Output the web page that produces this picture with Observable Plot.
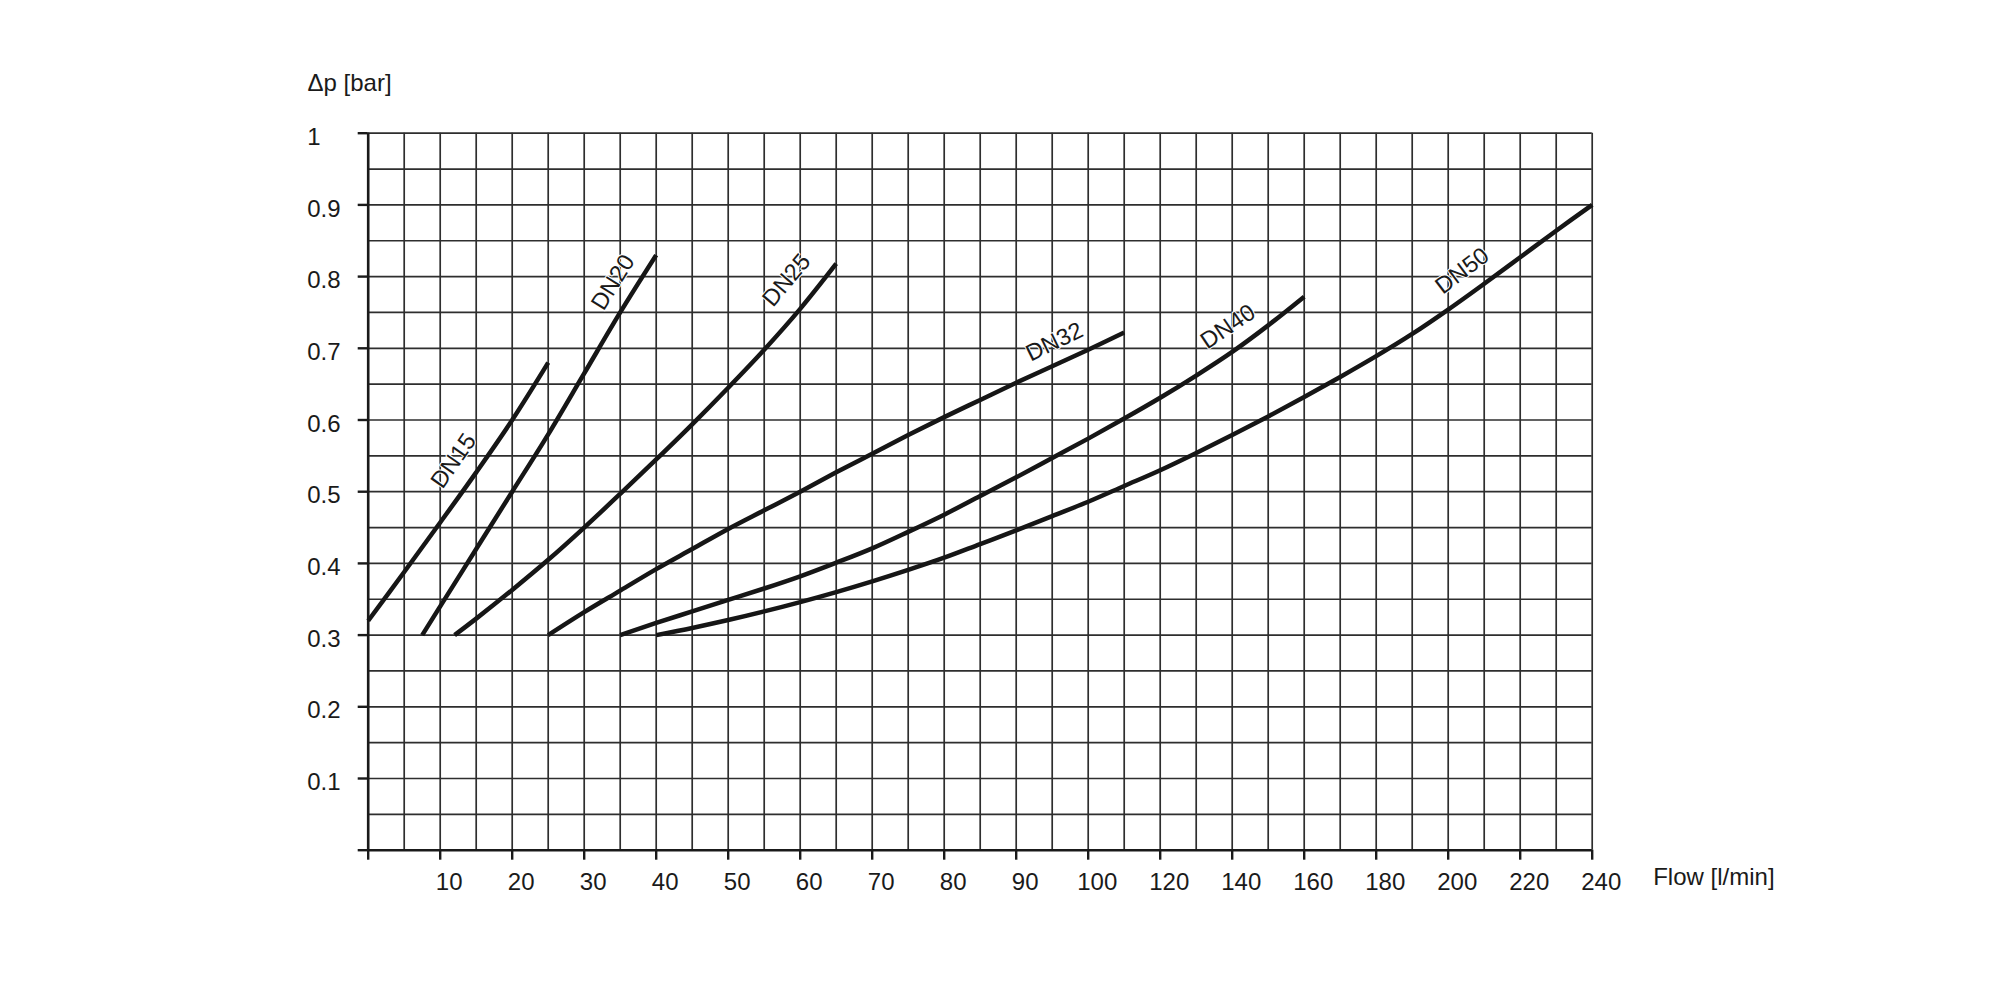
<!DOCTYPE html>
<html><head><meta charset="utf-8">
<script src="https://cdn.jsdelivr.net/npm/d3@7"></script>
<script src="https://cdn.jsdelivr.net/npm/@observablehq/plot@0.6"></script>
<style>body{margin:0;background:#fff;}</style>
</head><body><div id="chart"></div>
<script>
// ---- data ----
const flowDN15 = [0, 5, 10, 15, 20, 25];
const dpDN15   = [0.32, 0.388, 0.457, 0.527, 0.60, 0.68];

const flowDN20 = [7.5, 10, 15, 20, 25, 30, 35, 40];
const dpDN20   = [0.30, 0.34, 0.42, 0.50, 0.58, 0.665, 0.75, 0.83];

const flowDN25 = [12, 15, 20, 25, 30, 35, 40, 45, 50, 55, 60, 65];
const dpDN25   = [0.30, 0.323, 0.363, 0.405, 0.45, 0.497, 0.545, 0.594, 0.645, 0.698, 0.755, 0.818];

const flowDN32 = [25, 30, 35, 40, 45, 50, 55, 60, 65, 70, 75, 80, 85, 90, 95, 100, 110];
const dpDN32   = [0.30, 0.332, 0.362, 0.392, 0.42, 0.448, 0.474, 0.50, 0.527, 0.553, 0.579, 0.604, 0.628, 0.652, 0.675, 0.698, 0.722];

const flowDN40 = [35, 40, 45, 50, 55, 60, 65, 70, 75, 80, 85, 90, 95, 100, 110, 120, 130, 140, 150, 160];
const dpDN40   = [0.30, 0.317, 0.333, 0.349, 0.365, 0.382, 0.401, 0.421, 0.444, 0.468, 0.494, 0.52, 0.547, 0.574, 0.602, 0.631, 0.662, 0.695, 0.732, 0.772];

const flowDN50 = [40, 45, 50, 55, 60, 65, 70, 75, 80, 85, 90, 95, 100, 110, 120, 130, 140, 150, 160, 170, 180, 190, 200, 210, 220, 230, 240];
const dpDN50   = [0.30, 0.31, 0.321, 0.333, 0.346, 0.36, 0.375, 0.391, 0.408, 0.427, 0.446, 0.466, 0.486, 0.508, 0.53, 0.554, 0.579, 0.605, 0.632, 0.66, 0.689, 0.72, 0.754, 0.79, 0.827, 0.864, 0.90];

const seriesNames = ["DN15", "DN20", "DN25", "DN32", "DN40", "DN50"];
const seriesFlows = [flowDN15, flowDN20, flowDN25, flowDN32, flowDN40, flowDN50];
const seriesDps   = [dpDN15, dpDN20, dpDN25, dpDN32, dpDN40, dpDN50];

// label centres and text angles
const labelFlow  = [11.85, 34.0, 58.1, 95.3, 138.8, 203.9];
const labelDp    = [0.543, 0.792, 0.795, 0.709, 0.73, 0.808];
const labelAngle = [-55, -58, -50, -26, -34, -37];

// axis ticks and grid
const xTicks      = [0, 10, 20, 30, 40, 50, 60, 70, 80, 90, 100, 120, 140, 160, 180, 200, 220, 240];
const xTickLabels = [10, 20, 30, 40, 50, 60, 70, 80, 90, 100, 120, 140, 160, 180, 200, 220, 240];
const yTicks      = [0, 0.1, 0.2, 0.3, 0.4, 0.5, 0.6, 0.7, 0.8, 0.9, 1];
const yTickLabels = [0.1, 0.2, 0.3, 0.4, 0.5, 0.6, 0.7, 0.8, 0.9, 1];
const gridFlow = [0, 5, 10, 15, 20, 25, 30, 35, 40, 45, 50, 55, 60, 65, 70, 75, 80, 85, 90, 95, 100,
                  110, 120, 130, 140, 150, 160, 170, 180, 190, 200, 210, 220, 230, 240];
const gridDp = [0, 0.05, 0.1, 0.15, 0.2, 0.25, 0.3, 0.35, 0.4, 0.45, 0.5, 0.55, 0.6, 0.65, 0.7, 0.75, 0.8, 0.85, 0.9, 0.95, 1];

const yTitle = "Δp [bar]";
const xTitle = "Flow [l/min]";

// ---- build tables ----
const rows = seriesNames.flatMap((name, i) =>
  seriesFlows[i].map((f, j) => ({name, flow: f, dp: seriesDps[i][j]})));
const labels = seriesNames.map((name, i) => ({name, flow: labelFlow[i], dp: labelDp[i], angle: labelAngle[i]}));

const W = 2000, H = 1000;
const mL = 367.7, mR = 408.3, mT = 132.7, mB = 150.3;
const x100 = mL + 720; // position of flow 100 (axis step changes from 10 to 20 after 100)

const font = "'Liberation Sans', Arial, Helvetica, sans-serif";
const ink = "#1a1a1a";
const blank = () => "";

const chart = Plot.plot({
  width: W, height: H,
  marginLeft: mL, marginRight: mR, marginTop: mT, marginBottom: mB,
  style: {fontFamily: font, fontSize: "24px", color: ink, background: "#fff"},
  x: {type: "linear", domain: [0, 100, 240], range: [mL, x100, W - mR]},
  y: {type: "linear", domain: [0, 1]},
  marks: [
    Plot.ruleX(gridFlow, {stroke: "#2e2e2e", strokeWidth: 1.7}),
    Plot.ruleY(gridDp, {stroke: "#2e2e2e", strokeWidth: 1.7}),
    Plot.ruleX([0], {stroke: ink, strokeWidth: 2.6}),
    Plot.ruleY([0], {stroke: ink, strokeWidth: 2.6}),
    Plot.axisY(yTicks, {tickSize: 10, tickFormat: blank, strokeWidth: 2.4, stroke: ink, label: null}),
    Plot.axisY(yTickLabels, {tickSize: 0, tickPadding: 61, textAnchor: "start", dy: 4, fontSize: 24, fill: ink, label: null,
      tickFormat: d => String(d)}),
    Plot.axisX(xTicks, {tickSize: 10, tickFormat: blank, strokeWidth: 2.4, stroke: ink, label: null}),
    Plot.axisX(xTickLabels, {tickSize: 0, tickPadding: 23, dx: 9, fontSize: 24, fill: ink, label: null,
      tickFormat: d => String(d)}),
    Plot.line(rows, {x: "flow", y: "dp", z: "name", stroke: "#161616", strokeWidth: 4.5, curve: "catmull-rom", strokeLinecap: "butt"}),
    Plot.text(labels, {x: "flow", y: "dp", text: "name", rotate: "angle", textAnchor: "middle", lineAnchor: "middle",
      fontSize: 23.5, fill: ink, stroke: "#fff", strokeWidth: 2, paintOrder: "stroke"}),
    Plot.text([yTitle], {frameAnchor: "top-left", dx: -60.7, dy: -50, textAnchor: "start", lineAnchor: "middle", fontSize: 24, fill: ink}),
    Plot.text([xTitle], {frameAnchor: "bottom-right", dx: 61, dy: 27, textAnchor: "start", lineAnchor: "middle", fontSize: 24, fill: ink})
  ]
});
document.getElementById("chart").appendChild(chart);
</script>
</body></html>
